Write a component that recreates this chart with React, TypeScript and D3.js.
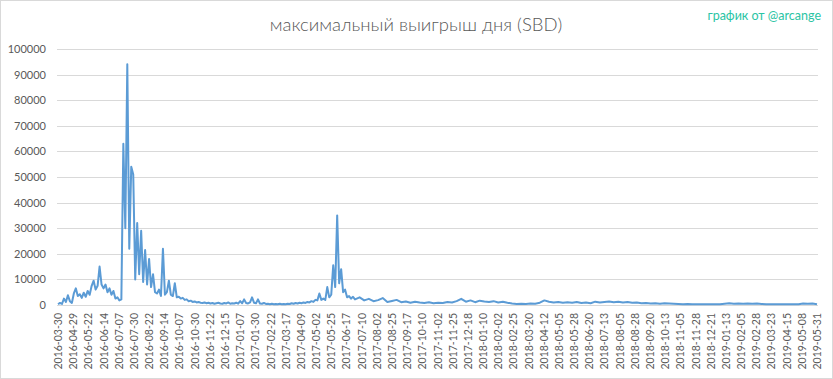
import React from 'react';
import * as d3 from 'd3';

const W = 833;
const H = 379;
const title = 'максимальный выигрыш дня (SBD)';
const credit = 'график от @arcange';

const tickLabels = [
  '2016-03-30', '2016-04-29', '2016-05-22', '2016-06-14', '2016-07-07', '2016-07-30', '2016-08-22',
  '2016-09-14', '2016-10-07', '2016-10-30', '2016-11-22', '2016-12-15', '2017-01-07', '2017-01-30',
  '2017-02-22', '2017-03-17', '2017-04-09', '2017-05-02', '2017-05-25', '2017-06-17', '2017-07-10',
  '2017-08-02', '2017-08-25', '2017-09-17', '2017-10-10', '2017-11-02', '2017-11-25', '2017-12-18',
  '2018-01-10', '2018-02-02', '2018-02-25', '2018-03-20', '2018-04-12', '2018-05-05', '2018-05-28',
  '2018-06-20', '2018-07-13', '2018-08-05', '2018-08-28', '2018-09-20', '2018-10-13', '2018-11-05',
  '2018-11-28', '2018-12-21', '2019-01-13', '2019-02-05', '2019-02-28', '2019-03-23', '2019-04-15',
  '2019-05-08', '2019-05-31',
];
const LABEL_EVERY = 23; // categories between two axis labels
const CATEGORY_COUNT = 1151;

const yTickValues = [0, 10000, 20000, 30000, 40000, 50000, 60000, 70000, 80000, 90000, 100000];

// early period: one value every 3 categories (categories 0..447)
const earlyStep = 3;
const earlyValues = [
  300, 800, 400, 2500, 1200, 3800, 1500, 800, 4500, 6500,
  3500, 4200, 2800, 4800, 3200, 5500, 4000, 7500, 9500, 6000,
  7500, 15000, 8000, 6500, 8000, 5000, 6500, 4000, 5500, 2500,
  3000, 1800, 2200, 63000, 30000, 94000, 22000, 54000, 51000, 10000,
  32000, 12000, 29000, 9000, 21500, 8000, 18000, 7000, 12000, 5000,
  4500, 6000, 3500, 22000, 4000, 5000, 9500, 4000, 3500, 8500,
  3000, 3200, 2500, 2800, 2000, 2200, 1500, 1700, 1200, 1400,
  1000, 1200, 900, 800, 1000, 700, 900, 600, 800, 500,
  700, 900, 600, 500, 800, 600, 1000, 500, 700, 600,
  900, 500, 1500, 700, 2200, 800, 600, 1000, 3000, 900,
  700, 2200, 600, 500, 800, 400, 500, 300, 500, 300,
  400, 300, 500, 300, 400, 300, 500, 400, 700, 500,
  800, 600, 900, 700, 1000, 800, 1200, 1000, 1500, 1200,
  2000, 1800, 4500, 2000, 2500, 2000, 7000, 3000, 4000, 15500,
  7000, 35000, 8500, 14000, 5000, 6000, 3000, 3500, 2500, 3200,
];

// late period: one value every 7 categories (categories 450..1150)
const lateStart = 450;
const lateStep = 7;
const lateValues = [
  2200, 3000, 1800, 2400, 1500, 1900, 2700, 1200, 1600, 2000,
  1100, 1400, 900, 1300, 1000, 800, 1100, 700, 900, 800,
  1200, 1000, 1500, 2400, 1300, 1800, 1100, 1700, 1400, 1200,
  1500, 1000, 1300, 900, 600, 400, 500, 400, 600, 500,
  900, 1800, 1300, 1000, 1200, 900, 1100, 900, 1200, 800,
  1000, 700, 1300, 1000, 1200, 1400, 1100, 1300, 1000, 1200,
  900, 1000, 700, 800, 600, 700, 500, 700, 600, 500,
  400, 300, 350, 300, 300, 250, 300, 300, 250, 300,
  500, 700, 500, 600, 500, 600, 500, 600, 400, 300,
  300, 250, 300, 300, 250, 300, 300, 600, 500, 600,
  300,
];

const FONT = 'Lato, "Open Sans", sans-serif';
const TEXT = '#595959';

export default function App() {
  const x = d3.scaleLinear().domain([0, CATEGORY_COUNT - 1]).range([58, 817]);
  const y = d3.scaleLinear().domain([0, 100000]).range([305, 49]);

  const points: [number, number][] = [
    ...earlyValues.map((v, k) => [k * earlyStep, v] as [number, number]),
    ...lateValues.map((v, m) => [lateStart + m * lateStep, v] as [number, number]),
  ];
  const line = d3
    .line<[number, number]>()
    .x((d) => x(d[0]))
    .y((d) => y(d[1]));

  return (
    <div style={{ position: 'absolute', left: 0, top: 0 }}>
      <svg width={W} height={H} style={{ display: 'block', background: '#fff' }}>
        <rect x={0.5} y={0.5} width={W - 1} height={H - 1} fill="#fff" stroke="#D9D9D9" />
        <text x={416} y={31} textAnchor="middle" fontFamily={FONT} fontSize={18.5} fontWeight={300} fill={TEXT}>
          {title}
        </text>
        <text x={821} y={20} textAnchor="end" fontFamily={FONT} fontSize={12.5} fill="#2BC4A4">
          {credit}
        </text>
        {yTickValues.map((t) => (
          <g key={t}>
            <line x1={57} x2={818} y1={Math.round(y(t)) + 0.5} y2={Math.round(y(t)) + 0.5} stroke="#D9D9D9" strokeWidth={1} />
            <text x={46} y={y(t) + 4} textAnchor="end" fontFamily={FONT} fontSize={11} fill={TEXT}>
              {t}
            </text>
          </g>
        ))}
        <path d={line(points) || ''} fill="none" stroke="#5B9BD5" strokeWidth={2} strokeLinejoin="round" />
        {tickLabels.map((lab, j) => {
          const px = x(j * LABEL_EVERY);
          return (
            <text
              key={lab}
              transform={`translate(${px + 4},${313}) rotate(-90)`}
              textAnchor="end"
              fontFamily={FONT}
              fontSize={10.5}
              fill={TEXT}
            >
              {lab}
            </text>
          );
        })}
      </svg>
    </div>
  );
}
